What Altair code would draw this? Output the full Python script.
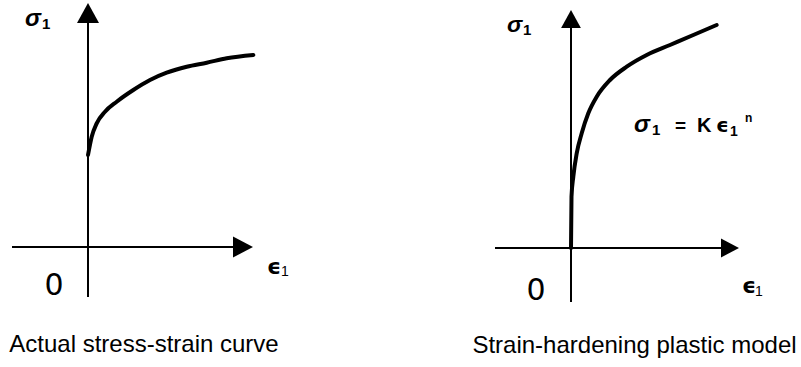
import altair as alt
import pandas as pd

# Measured flow curve: strain vs true stress (arbitrary units)
actual_strain = [0.0, 0.037, 0.087, 0.17, 0.287, 0.453, 0.62, 0.787, 0.987, 1.187, 1.387, 1.653]
actual_stress = [0.92, 1.103, 1.237, 1.353, 1.453, 1.57, 1.67, 1.743, 1.803, 1.843, 1.887, 1.92]

# Power-law (strain-hardening) model curve
model_strain = [0.0, 0.005, 0.023, 0.057, 0.107, 0.173, 0.257, 0.39, 0.557, 0.757, 0.99, 1.223, 1.457]
model_stress = [0.0, 0.513, 0.713, 0.947, 1.147, 1.347, 1.513, 1.68, 1.813, 1.93, 2.03, 2.13, 2.23]

# Axis extents in each panel: (strain min, strain arrow tip, stress min, stress arrow tip)
left_axes = (-0.76, 1.65, -0.50, 2.44)
right_axes = (-0.76, 1.68, -0.54, 2.38)

SANS = "Liberation Sans"
GREEK = "DejaVu Sans"
ONE = alt.Data(values=[{}])

UP = "M0,-1L-1.1,1L1.1,1Z"
RIGHT = "M1,0L-1,-1.05L-1,1.05Z"


def label(txt, x, y, size, font=SANS, weight="normal", style="normal", align="left"):
    return alt.Chart(ONE).mark_text(
        text=txt, font=font, fontSize=size, fontWeight=weight, fontStyle=style,
        align=align, baseline="alphabetic", color="black",
    ).encode(x=alt.value(x), y=alt.value(y))


def panel(strain, stress, axes, xdom, ydom, width, head, labels):
    xs = alt.Scale(domain=xdom, nice=False, zero=False)
    ys = alt.Scale(domain=ydom, nice=False, zero=False)
    xmin, xtip, ymin, ytip = axes
    hx = head / 100.0

    axis_df = pd.DataFrame({
        "x": [xmin, 0.0], "x2": [xtip - hx, 0.0],
        "y": [0.0, ymin], "y2": [0.0, ytip - hx],
    })
    rules = alt.Chart(axis_df).mark_rule(color="black", strokeWidth=2).encode(
        x=alt.X("x:Q", scale=xs, axis=None), x2="x2:Q",
        y=alt.Y("y:Q", scale=ys, axis=None), y2="y2:Q",
    )

    up_df = pd.DataFrame({"x": [0.0], "y": [ytip - hx / 2]})
    right_df = pd.DataFrame({"x": [xtip - hx / 2], "y": [0.0]})
    arrow_up = alt.Chart(up_df).mark_point(
        shape=UP, size=head * head, filled=True, color="black", opacity=1, strokeWidth=0
    ).encode(x=alt.X("x:Q", scale=xs, axis=None), y=alt.Y("y:Q", scale=ys, axis=None))
    arrow_right = alt.Chart(right_df).mark_point(
        shape=RIGHT, size=head * head, filled=True, color="black", opacity=1, strokeWidth=0
    ).encode(x=alt.X("x:Q", scale=xs, axis=None), y=alt.Y("y:Q", scale=ys, axis=None))

    curve_df = pd.DataFrame({"strain": strain, "stress": stress, "i": range(len(strain))})
    curve = alt.Chart(curve_df).mark_line(
        color="black", strokeWidth=4, interpolate="monotone", strokeCap="round"
    ).encode(
        x=alt.X("strain:Q", scale=xs, axis=None),
        y=alt.Y("stress:Q", scale=ys, axis=None),
        order="i:Q",
    )

    return alt.layer(rules, arrow_up, arrow_right, curve, *labels).properties(
        width=width, height=367
    )


left_labels = [
    label("σ", 25, 26, 24, weight="bold", style="italic"),
    label("1", 42, 29, 15, weight="bold"),
    label("ϵ", 267, 274, 22, font=GREEK, weight="bold"),
    label("1", 281, 276, 14),
    label("0", 54, 295, 30, font=GREEK, align="center"),
    label("Actual stress-strain curve", 144, 352, 24, align="center"),
]

right_labels = [
    label("σ", 107, 32, 23, weight="bold", style="italic"),
    label("1", 123, 35, 15, weight="bold"),
    label("ϵ", 342, 293, 22, font=GREEK, weight="bold"),
    label("1", 355, 296, 14),
    label("0", 136, 300, 30, font=GREEK, align="center"),
    label("σ", 234, 132, 24, weight="bold", style="italic"),
    label("1", 252, 135, 15, weight="bold"),
    label("=", 275, 132, 19, weight="bold"),
    label("K", 297, 132, 20, weight="bold"),
    label("ϵ", 316, 132, 20, font=GREEK, weight="bold"),
    label("1", 330, 136, 14, weight="bold"),
    label("n", 345, 122, 12, weight="bold"),
    label("Strain-hardening plastic model", 234.5, 353, 24, align="center"),
]

left = panel(actual_strain, actual_stress, left_axes,
             [-0.88, 3.12], [-1.20, 2.47], 400, 20, left_labels)
right = panel(model_strain, model_stress, right_axes,
              [-1.71, 2.30], [-1.19, 2.48], 401, 18, right_labels)

chart = alt.hconcat(left, right, spacing=0).properties(
    padding=0, background="white"
).configure_view(stroke=None)

chart.save("out.html", embed_options={"renderer": "svg", "actions": False})
